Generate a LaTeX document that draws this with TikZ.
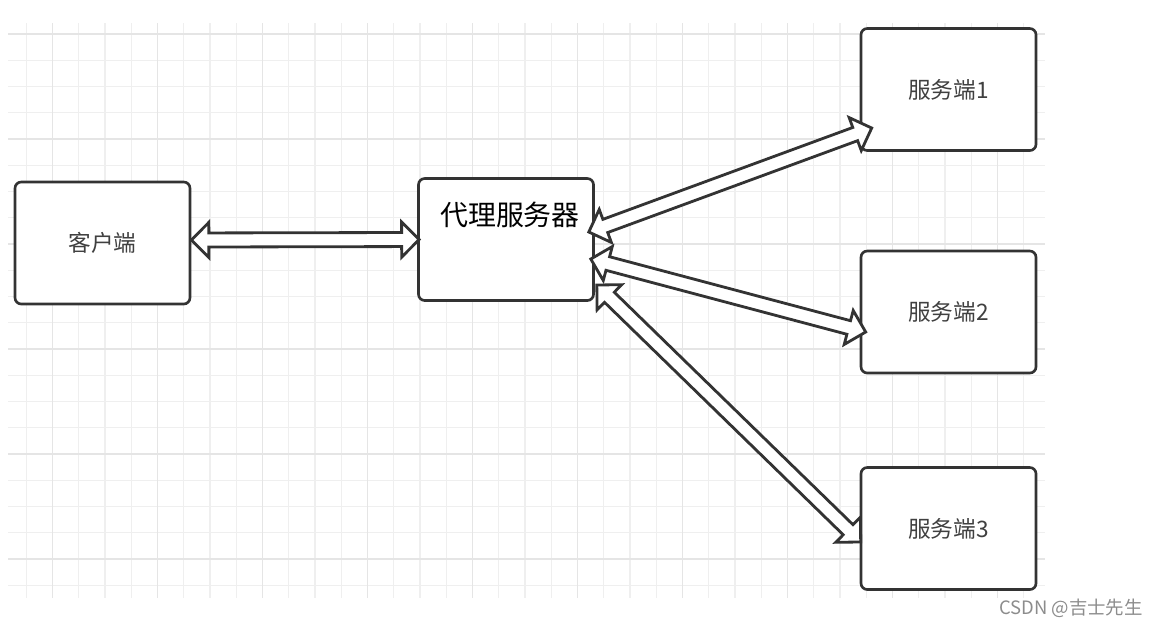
\documentclass[tikz,border=0pt]{standalone}
\usepackage{fontspec}
\setmainfont{Noto Sans CJK SC}
\usetikzlibrary{calc,positioning}
\definecolor{gridminorgray}{RGB}{239,239,239}
\definecolor{gridmajorgray}{RGB}{229,229,229}
\definecolor{boxline}{RGB}{51,51,51}
\definecolor{labelgray}{RGB}{64,64,64}
\definecolor{markgray}{RGB}{140,140,140}
\tikzset{
  duan/.style={
    rectangle,
    rounded corners=3.5pt,
    draw=boxline,
    line width=1.5pt,
    fill=white,
    minimum width=3.5cm,
    minimum height=2.44cm,
    inner sep=0pt,
    text=labelgray,
    font=\fontsize{12.9}{14}\selectfont
  },
  dailitxt/.style={
    text=black,
    font=\fontsize{15.9}{18}\selectfont
  },
  shuangjian/.style={
    draw=boxline,
    line width=1.6pt,
    fill=white,
    line join=miter
  },
  gridminor/.style={gridminorgray, line width=0.6pt},
  gridmajor/.style={gridmajorgray, line width=0.8pt},
  shuiyin/.style={text=markgray, font=\fontsize{10.5}{12}\selectfont}
}
% hollow double-headed arrow from #1 to #2
\newcommand\shuangxiang[2]{%
  \draw[shuangjian] let \p1=($(#2)-(#1)$), \n1={veclen(\x1,\y1)}, \n2={atan2(\y1,\x1)} in
    [shift={(#1)}, rotate=\n2]
    (0pt,0pt) -- (10pt,10pt) -- (10pt,4pt) -- ({\n1*1pt-10pt},4pt)
    -- ({\n1*1pt-10pt},10pt) -- ({\n1*1pt},0pt) -- ({\n1*1pt-10pt},-10pt)
    -- ({\n1*1pt-10pt},-4pt) -- (10pt,-4pt) -- (10pt,-10pt) -- cycle;}

\begin{document}
\begin{tikzpicture}[x=0.02cm,y=-0.02cm]
\useasboundingbox (0,0) rectangle (1155,626);
% grid
\foreach \gx in {26.25,52.5,...,1040} \draw[gridminor] (\gx,23) -- (\gx,598);
\foreach \gy in {34,60.25,...,598} \draw[gridminor] (8,\gy) -- (1045,\gy);
\foreach \gx in {52.5,157.5,...,1040} \draw[gridmajor] (\gx,23) -- (\gx,598);
\foreach \gy in {34,139,...,598} \draw[gridmajor] (8,\gy) -- (1045,\gy);

\node[duan] (client) at (102.5,243) {客户端};
\node[duan, label={[dailitxt, xshift=0.08cm, yshift=0.5cm]center:代理服务器}] (proxy) at (506,239.5) {};
\node[duan] (server1) at (948.5,89.5) {服务端1};
\node[duan] (server2) at (948.5,312) {服务端2};
\node[duan] (server3) at (948.5,528.5) {服务端3};

\coordinate (c1) at ($(client.east)+(0,-3)$);
\coordinate (p0) at ($(proxy.west)+(2,0)$);
\coordinate (p1) at ($(proxy.east)+(-6,-7.5)$);
\coordinate (p2) at ($(proxy.east)+(-4,19.5)$);
\coordinate (p3) at ($(proxy.east)+(2,45.5)$);
\coordinate (s1) at ($(server1.west)+(12,38.5)$);
\coordinate (s2) at ($(server2.west)+(6,20)$);
\coordinate (s3) at ($(server3.west)+(1,13.5)$);

\shuangxiang{c1}{p0}
\shuangxiang{p1}{s1}
\shuangxiang{p2}{s2}
\shuangxiang{p3}{s3}

\node[shuiyin] (csdn) at (1071,608) {CSDN @吉士先生};
\end{tikzpicture}
\end{document}
